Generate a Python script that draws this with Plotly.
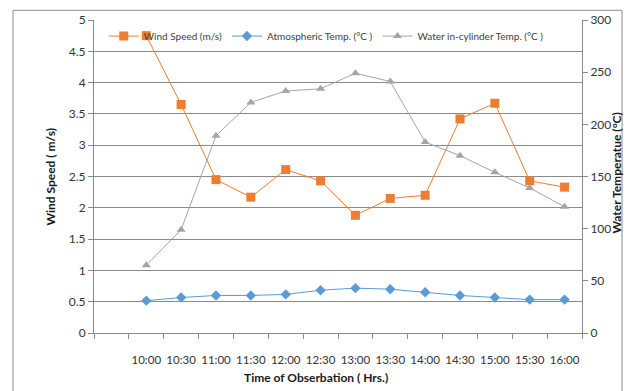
import plotly.graph_objects as go

# Observation times (half-hour steps); the first category slot is left empty
times = ["10:00", "10:30", "11:00", "11:30", "12:00", "12:30", "13:00",
         "13:30", "14:00", "14:30", "15:00", "15:30", "16:00"]

wind_speed = [4.75, 3.65, 2.45, 2.17, 2.61, 2.43, 1.88, 2.15, 2.20, 3.42, 3.67, 2.43, 2.33]
atmospheric_temp = [31, 34, 36, 36, 37, 41, 43, 42, 39, 36, 34, 32, 32]
water_temp = [65, 99, 189, 221, 232, 234, 249, 241, 183, 170, 154, 139, 121]

left_ticks = [0, 0.5, 1, 1.5, 2, 2.5, 3, 3.5, 4, 4.5, 5]
right_ticks = [0, 50, 100, 150, 200, 250, 300]

FONT = "Lato, Calibri, Carlito, sans-serif"
GRID = "#8a8a8a"
AXIS = "#8a8a8a"

xpos = list(range(1, len(times) + 1))

fig = go.Figure()
fig.add_trace(go.Scatter(
    x=xpos, y=wind_speed, name="Wind Speed (m/s)", mode="lines+markers",
    line=dict(color="#ED7D31", width=1),
    marker=dict(symbol="square", size=9, color="#ED7D31"),
))
fig.add_trace(go.Scatter(
    x=xpos, y=atmospheric_temp, name="Atmospheric Temp. (°C )", mode="lines+markers",
    yaxis="y2",
    line=dict(color="#5B9BD5", width=1),
    marker=dict(symbol="diamond", size=8, color="#5B9BD5"),
))
fig.add_trace(go.Scatter(
    x=xpos, y=water_temp, name="Water in-cylinder Temp. (°C )", mode="lines+markers",
    yaxis="y2",
    line=dict(color="#A5A5A5", width=1),
    marker=dict(symbol="triangle-up", size=8, color="#A5A5A5"),
))

boundaries = [i - 0.5 for i in range(0, len(times) + 2)]

fig.update_layout(
    width=630, height=391,
    margin=dict(l=94, r=48, t=17, b=58),
    paper_bgcolor="white", plot_bgcolor="white",
    font=dict(family=FONT, size=12, color="#333333"),
    showlegend=True,
    legend=dict(
        orientation="h", x=0.02, y=0.995, xanchor="left", yanchor="top",
        font=dict(family=FONT, size=10, color="#404040"),
        bgcolor="rgba(255,255,255,0)", itemwidth=30, tracegroupgap=0,
    ),
    xaxis=dict(
        range=[-0.5, len(times) + 0.5],
        tickmode="array", tickvals=xpos, ticktext=times,
        ticks="", ticklen=0, ticklabelstandoff=16,
        showgrid=False, zeroline=False,
        showline=True, linecolor=AXIS, linewidth=1,
        minor=dict(tickmode="array", tickvals=boundaries, ticks="outside",
                   ticklen=5, tickcolor=AXIS, showgrid=False),
        tickfont=dict(size=11.5, color="#333333"),
        fixedrange=True,
    ),
    yaxis=dict(
        range=[0, 5], tickmode="array", tickvals=left_ticks,
        ticktext=[f"{v:g}" for v in left_ticks],
        ticks="outside", ticklen=5, tickcolor=AXIS,
        showgrid=True, gridcolor=GRID, gridwidth=1,
        zeroline=False, showline=True, linecolor=AXIS, linewidth=1,
        tickfont=dict(size=12, color="#333333"),
    ),
    yaxis2=dict(
        range=[0, 300], overlaying="y", side="right",
        tickmode="array", tickvals=right_ticks,
        ticks="outside", ticklen=5, tickcolor=AXIS,
        showgrid=False, zeroline=False,
        showline=True, linecolor=AXIS, linewidth=1,
        tickfont=dict(size=12, color="#333333"),
    ),
)

# Outer chart border
fig.add_shape(type="rect", xref="paper", yref="paper",
              x0=-0.166, x1=1.082, y0=-0.21, y1=1.031,
              line=dict(color="#8c8c8c", width=1), fillcolor="rgba(0,0,0,0)",
              layer="below")

# Axis titles
fig.add_annotation(text="<b>Wind Speed ( m/s)</b>", xref="paper", yref="paper",
                   x=-0.09, y=0.5, xanchor="center", yanchor="middle",
                   textangle=-90, showarrow=False,
                   font=dict(family=FONT, size=12, color="#1a1a1a"))
fig.add_annotation(text="<b>Water Temperatue (°C)</b>", xref="paper", yref="paper",
                   x=1.07, y=0.51, xanchor="center", yanchor="middle",
                   textangle=-90, showarrow=False,
                   font=dict(family=FONT, size=12, color="#1a1a1a"))
fig.add_annotation(text="<b>Time of Obserbation ( Hrs.)</b>", xref="paper", yref="paper",
                   x=0.455, y=-0.142, xanchor="center", yanchor="middle",
                   showarrow=False,
                   font=dict(family=FONT, size=12, color="#1a1a1a"))

fig.write_html("out.html")
